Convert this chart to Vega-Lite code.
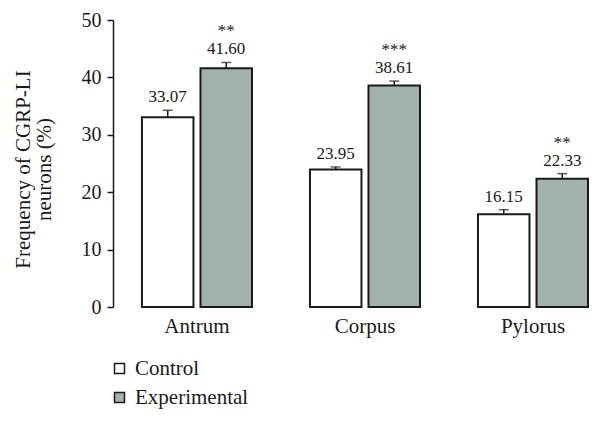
{
  "$schema": "https://vega.github.io/schema/vega-lite/v6.json",
  "autosize": "none",
  "width": 480,
  "height": 287,
  "padding": {"left": 113, "top": 20, "right": 10, "bottom": 114},
  "background": "white",
  "config": {
    "view": {"stroke": null},
    "font": "Liberation Serif"
  },
  "data": {
    "values": [
      {"region": "Antrum", "group": "Control", "value": 33.07, "se": 1.2, "label": "33.07", "stars": ""},
      {"region": "Antrum", "group": "Experimental", "value": 41.60, "se": 1.0, "label": "41.60", "stars": "**"},
      {"region": "Corpus", "group": "Control", "value": 23.95, "se": 0.45, "label": "23.95", "stars": ""},
      {"region": "Corpus", "group": "Experimental", "value": 38.61, "se": 0.75, "label": "38.61", "stars": "***"},
      {"region": "Pylorus", "group": "Control", "value": 16.15, "se": 0.8, "label": "16.15", "stars": ""},
      {"region": "Pylorus", "group": "Experimental", "value": 22.33, "se": 0.9, "label": "22.33", "stars": "**"}
    ]
  },
  "transform": [{"calculate": "datum.value + datum.se", "as": "upper"}],
  "encoding": {
    "x": {
      "field": "region",
      "type": "nominal",
      "sort": ["Antrum", "Corpus", "Pylorus"],
      "scale": {"paddingInner": 0.345, "paddingOuter": 0.101, "align": 0.853},
      "axis": {
        "title": null,
        "domain": false,
        "ticks": false,
        "labelAngle": 0,
        "labelFont": "Liberation Serif",
        "labelFontSize": 21,
        "labelColor": "#1a1a1a",
        "labelPadding": 8
      }
    },
    "xOffset": {
      "field": "group",
      "type": "nominal",
      "sort": ["Control", "Experimental"],
      "scale": {"paddingInner": 0.12, "paddingOuter": 0}
    }
  },
  "layer": [
    {
      "mark": {"type": "bar", "stroke": "#1a1a1a", "strokeWidth": 2},
      "encoding": {
        "y": {
          "field": "value",
          "type": "quantitative",
          "scale": {"domain": [0, 50]},
          "axis": {
            "values": [0, 10, 20, 30, 40, 50],
            "grid": false,
            "title": ["Frequency of CGRP-LI", "neurons (%)"],
            "titleFont": "Liberation Serif",
            "titleFontSize": 21,
            "titleFontWeight": "normal",
            "titleColor": "#1a1a1a",
            "titleLineHeight": 21,
            "titlePadding": 27,
            "titleY": 149,
            "labelFont": "Liberation Serif",
            "labelFontSize": 20,
            "labelColor": "#1a1a1a",
            "labelPadding": 6,
            "tickSize": 6,
            "tickColor": "#1a1a1a",
            "tickWidth": 1.5,
            "domainColor": "#1a1a1a",
            "domainWidth": 1.5
          }
        },
        "fill": {
          "field": "group",
          "type": "nominal",
          "sort": ["Control", "Experimental"],
          "scale": {"domain": ["Control", "Experimental"], "range": ["#ffffff", "#a2b2af"]},
          "legend": {
            "orient": "none",
            "legendX": -4,
            "legendY": 338,
            "title": null,
            "symbolType": "square",
            "symbolSize": 100,
            "symbolStrokeColor": "#1a1a1a",
            "symbolStrokeWidth": 1.5,
            "symbolOpacity": 1,
            "labelFont": "Liberation Serif",
            "labelFontSize": 21,
            "labelColor": "#1a1a1a",
            "labelOffset": 5,
            "rowPadding": 7
          }
        }
      }
    },
    {
      "mark": {"type": "rule", "stroke": "#1a1a1a", "strokeWidth": 1.5},
      "encoding": {
        "y": {"field": "value", "type": "quantitative"},
        "y2": {"field": "upper"}
      }
    },
    {
      "mark": {"type": "tick", "color": "#1a1a1a", "size": 10, "thickness": 1.5, "orient": "horizontal"},
      "encoding": {
        "y": {"field": "upper", "type": "quantitative"}
      }
    },
    {
      "mark": {"type": "text", "baseline": "alphabetic", "dy": -8, "fontSize": 17, "color": "#1a1a1a", "font": "Liberation Serif"},
      "encoding": {
        "y": {"field": "upper", "type": "quantitative"},
        "text": {"field": "label"}
      }
    },
    {
      "mark": {"type": "text", "baseline": "alphabetic", "dy": -26, "fontSize": 17, "color": "#1a1a1a", "font": "Liberation Serif"},
      "encoding": {
        "y": {"field": "upper", "type": "quantitative"},
        "text": {"field": "stars"}
      }
    }
  ]
}
